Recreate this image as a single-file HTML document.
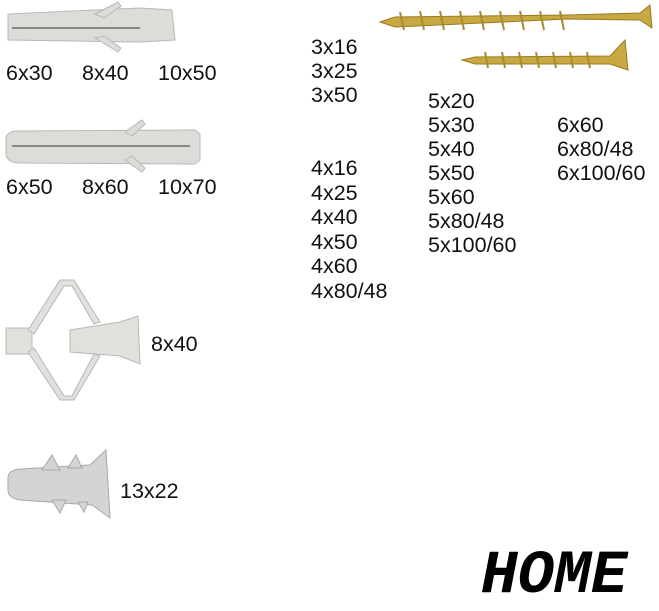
<!DOCTYPE html>
<html><head><style>
body{margin:0;width:659px;height:600px;background:#fff;position:relative;overflow:hidden;font-family:"Liberation Sans",sans-serif;}
.t{position:absolute;font-size:21.5px;line-height:20px;color:#111;white-space:nowrap;}
</style></head><body>
<svg width="659" height="600" style="position:absolute;left:0;top:0">
<!-- plug 1 -->
<g fill="#dcdcd8" stroke="#b8b8b4" stroke-width="1">
<path d="M8,14 L140,8 L172,10 L175,40 L140,42 L8,40 Z"/>
<path d="M95,14 L118,2 L121,6 L104,18 Z"/>
<path d="M95,38 L118,52 L121,48 L104,36 Z"/>
</g>
<line x1="12" y1="28" x2="140" y2="28" stroke="#888" stroke-width="2"/>
<!-- plug 2 -->
<g fill="#dcdcd8" stroke="#b8b8b4" stroke-width="1">
<path d="M6,138 Q8,130 20,131 L195,130 L200,134 L200,160 L195,164 L20,163 Q8,163 6,155 Z"/>
<path d="M125,132 L142,120 L145,124 L132,136 Z"/>
<path d="M125,160 L142,172 L145,168 L132,156 Z"/>
</g>
<line x1="12" y1="146" x2="190" y2="146" stroke="#888" stroke-width="2"/>
<!-- big screw -->
<path d="M380,22 L395,17 L568,15 L640,13 L650,5 L652,28 L640,20 L568,19 L395,27 Z" fill="#c8a840" stroke="#9a7a20"/>
<g stroke="#a88a30" stroke-width="2">
<line x1="400" y1="12" x2="404" y2="30"/><line x1="420" y1="11" x2="424" y2="30"/><line x1="440" y1="11" x2="444" y2="30"/><line x1="460" y1="11" x2="464" y2="30"/><line x1="480" y1="11" x2="484" y2="30"/><line x1="500" y1="11" x2="504" y2="30"/><line x1="520" y1="11" x2="524" y2="30"/><line x1="540" y1="11" x2="544" y2="30"/><line x1="560" y1="11" x2="564" y2="30"/>
</g>
<!-- small screw -->
<path d="M462,60 L475,57 L610,56 L625,40 L628,70 L610,64 L475,64 Z" fill="#c8a840" stroke="#9a7a20"/>
<g stroke="#a88a30" stroke-width="2">
<line x1="485" y1="52" x2="488" y2="68"/><line x1="502" y1="52" x2="505" y2="68"/><line x1="519" y1="52" x2="522" y2="68"/><line x1="536" y1="52" x2="539" y2="68"/><line x1="553" y1="52" x2="556" y2="68"/><line x1="570" y1="52" x2="573" y2="68"/><line x1="587" y1="52" x2="590" y2="68"/>
</g>
<!-- molly -->
<g fill="#e0e0dc" stroke="#b8b8b4">
<rect x="6" y="328" width="26" height="26"/>
<path d="M70,330 L120,322 L138,316 L140,364 L120,356 L70,352 Z"/>
<path d="M28,330 L60,280 L74,280 L100,322 L94,324 L72,286 L64,286 L34,334 Z"/>
<path d="M28,352 L60,400 L74,400 L100,356 L94,354 L72,396 L64,396 L34,348 Z"/>
</g>
<!-- driva -->
<g fill="#d4d4d2" stroke="#a8a8a6">
<path d="M8,478 Q8,470 20,469 L90,465 L106,450 L110,518 L92,505 L20,500 Q8,498 8,490 Z"/>
<path d="M42,470 L52,455 L60,470 Z"/><path d="M68,468 L76,455 L82,468 Z"/>
<path d="M52,500 L60,513 L66,500 Z"/><path d="M78,502 L84,512 L88,502 Z"/>
</g>
</svg>
<div class="t" style="left:6px;top:63px">6x30</div>
<div class="t" style="left:82px;top:63px">8x40</div>
<div class="t" style="left:158px;top:63px">10x50</div>
<div class="t" style="left:6px;top:177px">6x50</div>
<div class="t" style="left:82px;top:177px">8x60</div>
<div class="t" style="left:158px;top:177px">10x70</div>
<div class="t" style="left:151px;top:334px">8x40</div>
<div class="t" style="left:120px;top:481px">13x22</div>
<div class="t" style="left:311px;top:35px;line-height:24px">3x16<br>3x25<br>3x50</div>
<div class="t" style="left:311px;top:156px;line-height:24.6px">4x16<br>4x25<br>4x40<br>4x50<br>4x60<br>4x80/48</div>
<div class="t" style="left:428px;top:89px;line-height:24px">5x20<br>5x30<br>5x40<br>5x50<br>5x60<br>5x80/48<br>5x100/60</div>
<div class="t" style="left:557px;top:113px;line-height:24px">6x60<br>6x80/48<br>6x100/60</div>
<div style="position:absolute;left:481px;top:546px;font-family:'Liberation Mono',monospace;font-weight:bold;font-style:italic;font-size:61px;line-height:62px;color:#000">HOME</div>
</body></html>
